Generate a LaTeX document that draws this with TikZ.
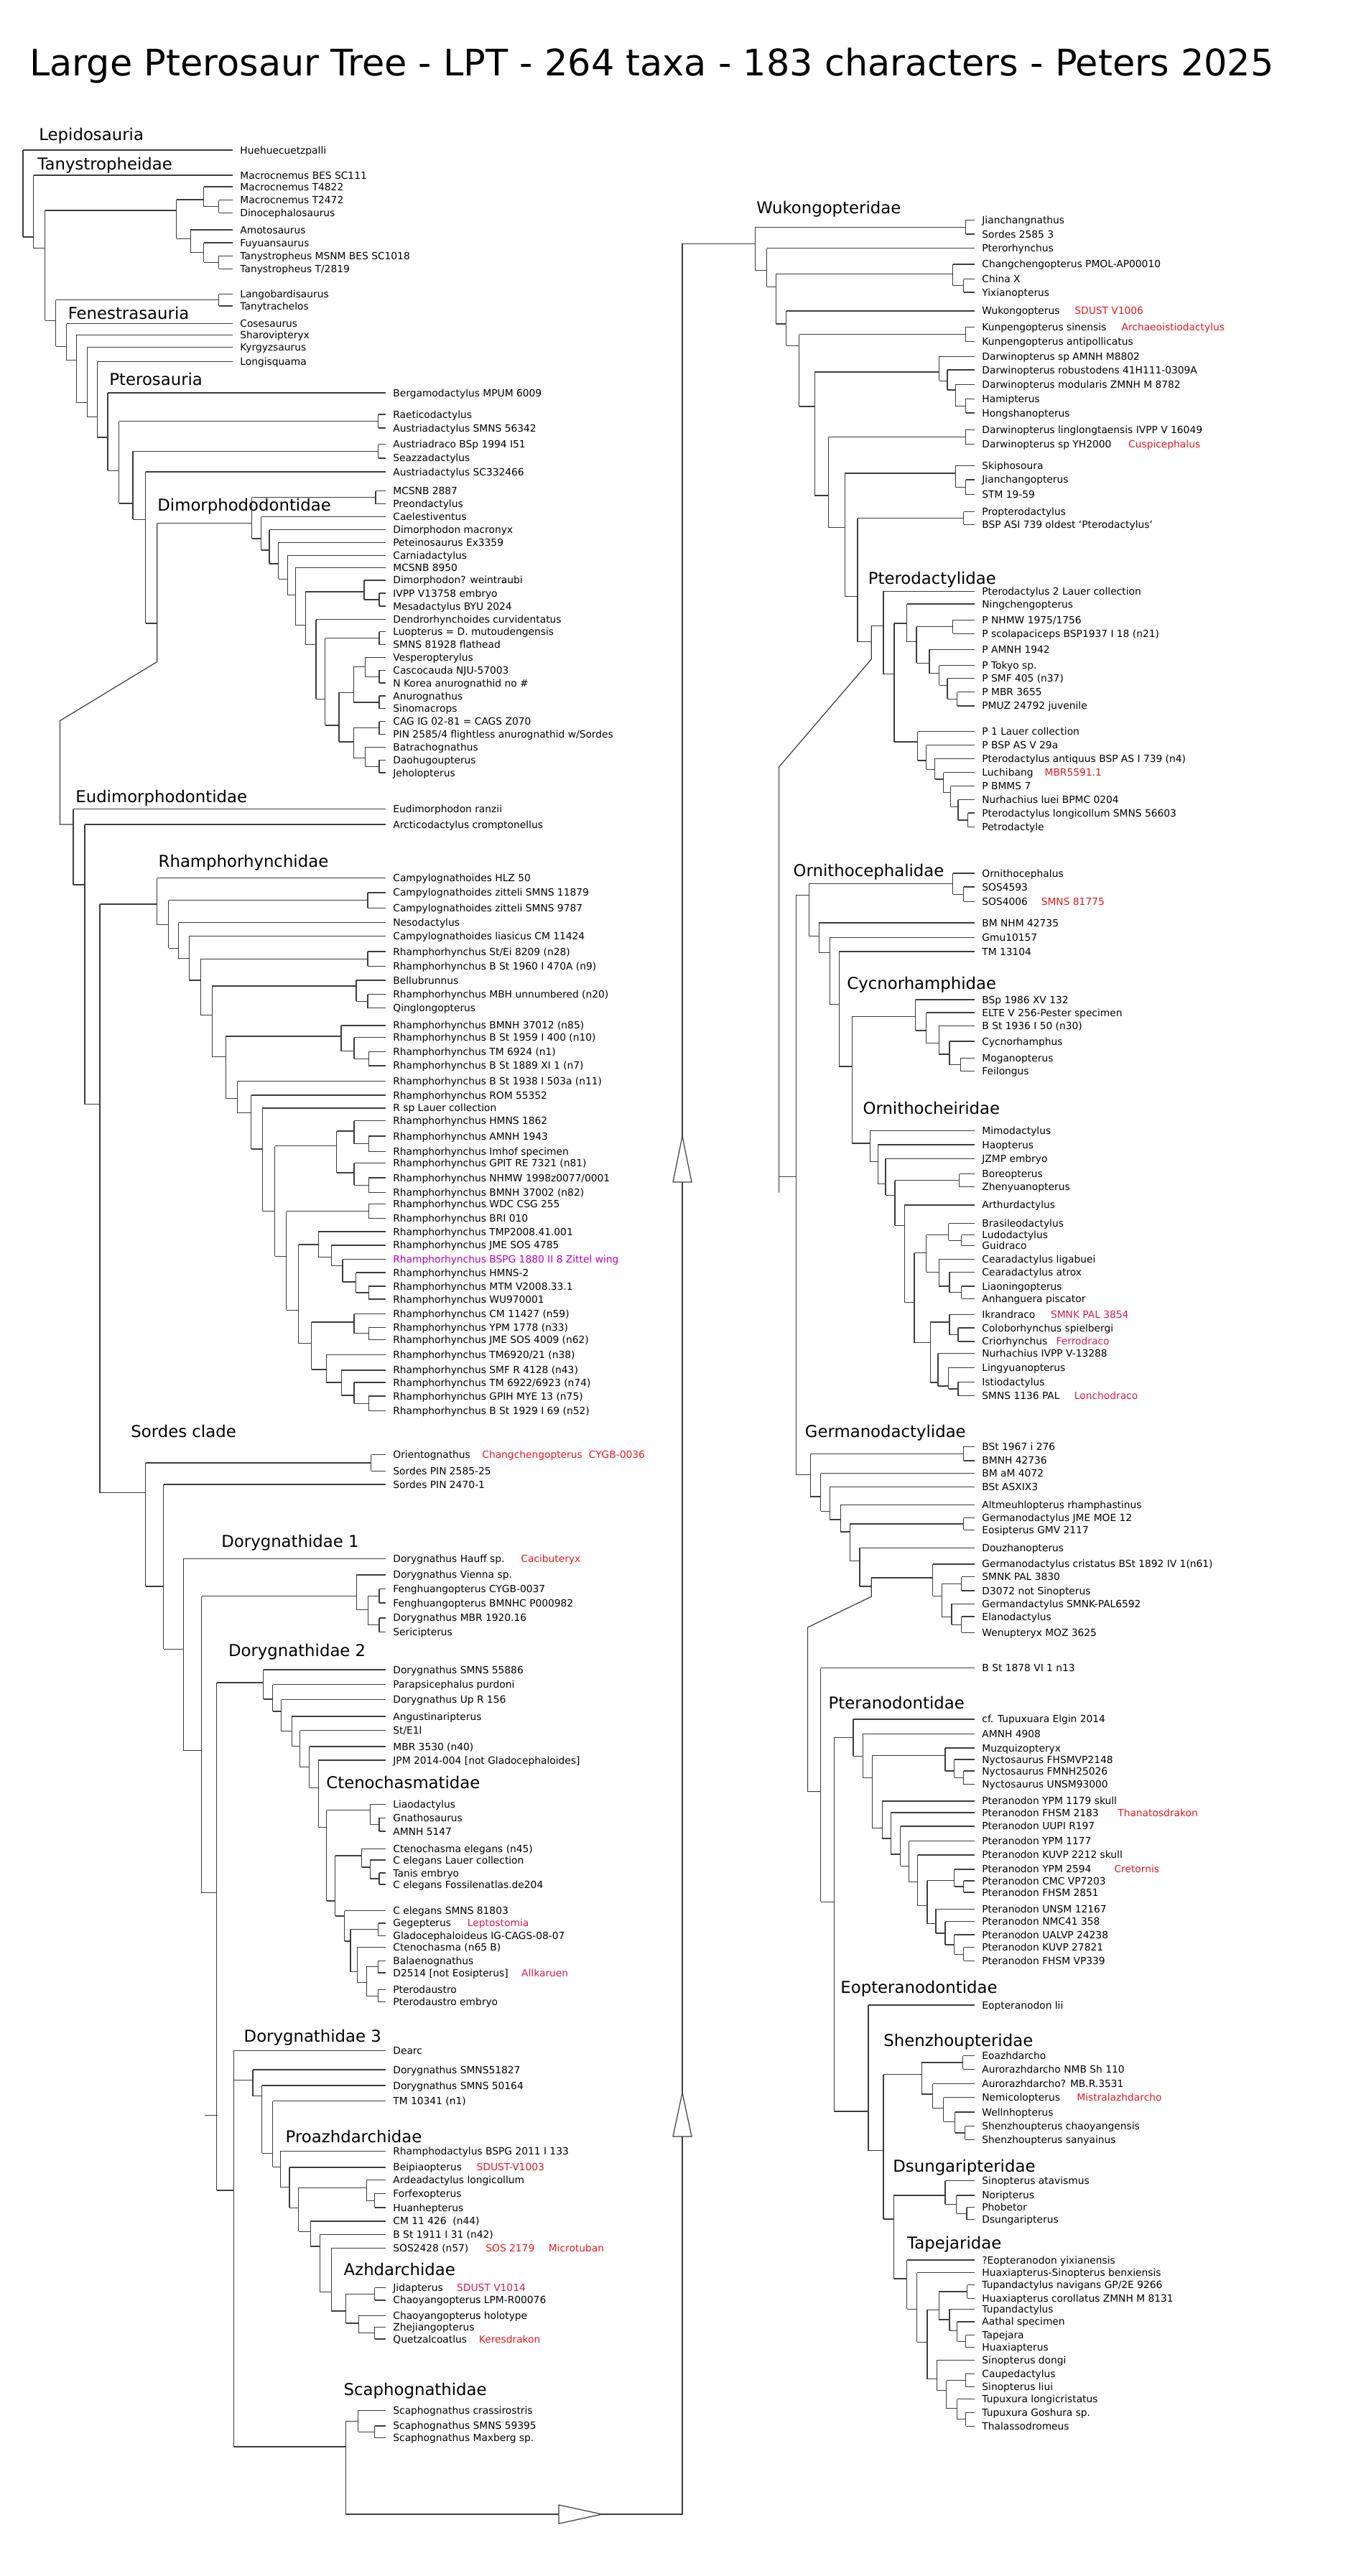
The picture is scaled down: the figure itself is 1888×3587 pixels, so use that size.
\documentclass[tikz,border=0pt]{standalone}
\usepackage{fontspec}
\setmainfont{DejaVu Sans}
\usepackage{graphicx}
\definecolor{annred}{RGB}{226,26,32}
\definecolor{anncrim}{RGB}{214,30,80}
\definecolor{annmag}{RGB}{185,0,185}
\definecolor{brc}{RGB}{60,60,60}
\tikzset{
  br/.style={draw=brc, line width=0.6pt},
  leaf/.style={anchor=west, inner xsep=5pt, inner ysep=0pt, text height=5pt, text depth=0pt, font=\fontsize{6.9}{8}\selectfont},
  ann/.style={anchor=west, inner sep=0pt, text height=5pt, text depth=0pt, font=\fontsize{6.9}{8}\selectfont, text=annred},
  clname/.style={anchor=west, inner sep=0pt, text height=8.3pt, text depth=0pt, font=\fontsize{11.4}{13}\selectfont},
  tri/.style={draw=brc, fill=white, line width=0.6pt},
}
\newcommand\lf[4]{\node[leaf] (#1) at (#2,#3) {#4};}
\newcommand\clade[4]{%
  \coordinate (#1) at (#2,#3);
  \foreach \ch [count=\ci] in {#4}{\ifnum\ci=1 \xdef\cfirst{\ch}\fi \xdef\clast{\ch}}%
  \draw[br] (#1 |- \cfirst) -- (#1) -- (#1 |- \clast);
  \foreach \ch in {#4}{\draw[br] (#1 |- \ch) -- (\ch);}%
}
\def\XB{324}
\def\XL{537}
\def\XR{1357}
\begin{document}
\begin{tikzpicture}[x=0.5pt,y=-0.5pt]
\fill[white] (0,0) rectangle (1888,3587);
\useasboundingbox (0,0) rectangle (1888,3587);

\node[anchor=west, inner sep=0pt] (title) at (41,91.5) {\resizebox{866pt}{!}{Large Pterosaur Tree - LPT - 264 taxa - 183 characters - Peters 2025}};

% ---------------- clade names
\node[clname] (hLepi) at (54,187.5) {Lepidosauria};
\node[clname] (hTany) at (52,228) {Tanystropheidae};
\node[clname] (hFene) at (94.4,435.7) {Fenestrasauria};
\node[clname] (hPter) at (152,528.6) {Pterosauria};
\node[clname] (hDimo) at (219,703) {Dimorphododontidae};
\node[clname] (hEudi) at (105,1109) {Eudimorphodontidae};
\node[clname] (hRham) at (220.3,1199.3) {Rhamphorhynchidae};
\node[clname] (hSord) at (182,1993) {Sordes clade};
\node[clname] (hDor1) at (308,2145.7) {Dorygnathidae 1};
\node[clname] (hDor2) at (317.6,2298.2) {Dorygnathidae 2};
\node[clname] (hCten) at (454,2482) {Ctenochasmatidae};
\node[clname] (hDor3) at (339.3,2835) {Dorygnathidae 3};
\node[clname] (hProa) at (397.3,2975) {Proazhdarchidae};
\node[clname] (hAzhd) at (478.3,3160) {Azhdarchidae};
\node[clname] (hScap) at (478.3,3326.8) {Scaphognathidae};
\node[clname] (hWuko) at (1052.9,289.3) {Wukongopteridae};
\node[clname] (hPtdy) at (1208.4,805) {Pterodactylidae};
\node[clname] (hOrce) at (1104.3,1212.5) {Ornithocephalidae};
\node[clname] (hCycn) at (1179,1369.6) {Cycnorhamphidae};
\node[clname] (hOrch) at (1201.2,1542.9) {Ornithocheiridae};
\node[clname] (hGerm) at (1120.5,1992.9) {Germanodactylidae};
\node[clname] (hPtno) at (1153.3,2371.4) {Pteranodontidae};
\node[clname] (hEopt) at (1170,2767) {Eopteranodontidae};
\node[clname] (hShen) at (1230,2841) {Shenzhoupteridae};
\node[clname] (hDsun) at (1243,3015.7) {Dsungaripteridae};
\node[clname] (hTape) at (1262.8,3123.5) {Tapejaridae};

% ---------------- leaves, left column
\lf{huehue}{\XB}{209}{Huehuecuetzpalli}
\lf{macbes}{\XB}{244}{Macrocnemus BES SC111}
\lf{macA}{\XB}{260}{Macrocnemus T4822}
\lf{macB}{\XB}{278.6}{Macrocnemus T2472}
\lf{dino}{\XB}{296.4}{Dinocephalosaurus}
\lf{amoto}{\XB}{320}{Amotosaurus}
\lf{fuyu}{\XB}{338}{Fuyuansaurus}
\lf{tanyM}{\XB}{356.4}{Tanystropheus MSNM BES SC1018}
\lf{tanyT}{\XB}{374.3}{Tanystropheus T/2819}
\lf{lango}{\XB}{409.6}{Langobardisaurus}
\lf{tanytr}{\XB}{426}{Tanytrachelos}
\lf{coses}{\XB}{450.7}{Cosesaurus}
\lf{sharo}{\XB}{466.4}{Sharovipteryx}
\lf{kyrg}{\XB}{483.6}{Kyrgyzsaurus}
\lf{longi}{\XB}{503.6}{Longisquama}

\lf{bergamo}{\XL}{547}{Bergamodactylus MPUM 6009}
\lf{raetico}{\XL}{577}{Raeticodactylus}
\lf{austS}{\XL}{596}{Austriadactylus SMNS 56342}
\lf{austdraco}{\XL}{618.6}{Austriadraco BSp 1994 I51}
\lf{seazza}{\XL}{637.9}{Seazzadactylus}
\lf{austSC}{\XL}{657}{Austriadactylus SC332466}
\lf{mcsnbA}{\XL}{683.6}{MCSNB 2887}
\lf{preon}{\XL}{701.8}{Preondactylus}
\lf{caeles}{\XL}{719.6}{Caelestiventus}
\lf{dimmac}{\XL}{737.5}{Dimorphodon macronyx}
\lf{petein}{\XL}{755.4}{Peteinosaurus Ex3359}
\lf{carnia}{\XL}{773.2}{Carniadactylus}
\lf{mcsnbB}{\XL}{790.4}{MCSNB 8950}
\lf{dimwein}{\XL}{807.9}{Dimorphodon? weintraubi}
\lf{ivpp}{\XL}{826}{IVPP V13758 embryo}
\lf{mesa}{\XL}{844}{Mesadactylus BYU 2024}
\lf{dendro}{\XL}{862.5}{Dendrorhynchoides curvidentatus}
\lf{luop}{\XL}{879.6}{Luopterus = D. mutoudengensis}
\lf{smnsA}{\XL}{897.5}{SMNS 81928 flathead}
\lf{vesper}{\XL}{915.4}{Vesperopterylus}
\lf{casco}{\XL}{933.2}{Cascocauda NJU-57003}
\lf{nkorea}{\XL}{951}{N Korea anurognathid no \#}
\lf{anuro}{\XL}{969}{Anurognathus}
\lf{sinomac}{\XL}{986.8}{Sinomacrops}
\lf{cag}{\XL}{1004.6}{CAG IG 02-81 = CAGS Z070}
\lf{pinA}{\XL}{1022.5}{PIN 2585/4 flightless anurognathid w/Sordes}
\lf{batra}{\XL}{1040.4}{Batrachognathus}
\lf{daohu}{\XL}{1058.2}{Daohugoupterus}
\lf{jehol}{\XL}{1076}{Jeholopterus}
\lf{eudim}{\XL}{1126.8}{Eudimorphodon ranzii}
\lf{arctic}{\XL}{1148}{Arcticodactylus cromptonellus}
\lf{campyHLZ}{\XL}{1222.5}{Campylognathoides HLZ 50}
\lf{campyZ1}{\XL}{1242.9}{Campylognathoides zitteli SMNS 11879}
\lf{campyZ2}{\XL}{1264.3}{Campylognathoides zitteli SMNS 9787}
\lf{neso}{\XL}{1284.6}{Nesodactylus}
\lf{campyL}{\XL}{1303.6}{Campylognathoides liasicus CM 11424}
\lf{rSt}{\XL}{1325}{Rhamphorhynchus St/Ei 8209 (n28)}
\lf{rBa}{\XL}{1345.4}{Rhamphorhynchus B St 1960 I 470A (n9)}
\lf{bellu}{\XL}{1365}{Bellubrunnus}
\lf{rMBH}{\XL}{1384.6}{Rhamphorhynchus MBH unnumbered (n20)}
\lf{qing}{\XL}{1403.6}{Qinglongopterus}
\lf{rBM1}{\XL}{1427.9}{Rhamphorhynchus BMNH 37012 (n85)}
\lf{rBc}{\XL}{1444.6}{Rhamphorhynchus B St 1959 I 400 (n10)}
\lf{rTMa}{\XL}{1464.3}{Rhamphorhynchus TM 6924 (n1)}
\lf{rBb}{\XL}{1483.9}{Rhamphorhynchus B St 1889 XI 1 (n7)}
\lf{rB1938}{\XL}{1505.4}{Rhamphorhynchus B St 1938 I 503a (n11)}
\lf{rROM}{\XL}{1525}{Rhamphorhynchus ROM 55352}
\lf{rLauer}{\XL}{1542.9}{R sp Lauer collection}
\lf{rHMNS}{\XL}{1560.7}{Rhamphorhynchus HMNS 1862}
\lf{rAMNH}{\XL}{1582}{Rhamphorhynchus AMNH 1943}
\lf{rImhof}{\XL}{1603.6}{Rhamphorhynchus Imhof specimen}
\lf{rGPIT}{\XL}{1619.6}{Rhamphorhynchus GPIT RE 7321 (n81)}
\lf{rNHMW}{\XL}{1640}{Rhamphorhynchus NHMW 1998z0077/0001}
\lf{rBM2}{\XL}{1660.7}{Rhamphorhynchus BMNH 37002 (n82)}
\lf{rWDC}{\XL}{1676.8}{Rhamphorhynchus WDC CSG 255}
\lf{rBRI}{\XL}{1696.4}{Rhamphorhynchus BRI 010}
\lf{rTMP}{\XL}{1715}{Rhamphorhynchus TMP2008.41.001}
\lf{rJMEa}{\XL}{1733.9}{Rhamphorhynchus JME SOS 4785}
\node[leaf, text=annmag] (rBSPG) at (\XL,1753.6) {Rhamphorhynchus BSPG 1880 II 8 Zittel wing};
\lf{rHMNS2}{\XL}{1772}{Rhamphorhynchus HMNS-2}
\lf{rMTM}{\XL}{1791}{Rhamphorhynchus MTM V2008.33.1}
\lf{rWU}{\XL}{1809}{Rhamphorhynchus WU970001}
\lf{rCM}{\XL}{1829.6}{Rhamphorhynchus CM 11427 (n59)}
\lf{rYPM}{\XL}{1848.2}{Rhamphorhynchus YPM 1778 (n33)}
\lf{rJMEb}{\XL}{1865.4}{Rhamphorhynchus JME SOS 4009 (n62)}
\lf{rTMb}{\XL}{1886.8}{Rhamphorhynchus TM6920/21 (n38)}
\lf{rSMF}{\XL}{1907.9}{Rhamphorhynchus SMF R 4128 (n43)}
\lf{rTMc}{\XL}{1925}{Rhamphorhynchus TM 6922/6923 (n74)}
\lf{rGPIH}{\XL}{1944}{Rhamphorhynchus GPIH MYE 13 (n75)}
\lf{rB1929}{\XL}{1964.3}{Rhamphorhynchus B St 1929 I 69 (n52)}
\lf{orient}{\XL}{2025.7}{Orientognathus}
\lf{sordesA}{\XL}{2048.2}{Sordes PIN 2585-25}
\lf{sordesB}{\XL}{2067}{Sordes PIN 2470-1}
\lf{doryH}{\XL}{2170.4}{Dorygnathus Hauff sp.}
\lf{doryV}{\XL}{2192.9}{Dorygnathus Vienna sp.}
\lf{fengA}{\XL}{2212.5}{Fenghuangopterus CYGB-0037}
\lf{fengB}{\XL}{2232}{Fenghuangopterus BMNHC P000982}
\lf{doryMBR}{\XL}{2252.9}{Dorygnathus MBR 1920.16}
\lf{seric}{\XL}{2272.5}{Sericipterus}
\lf{doryS558}{\XL}{2325}{Dorygnathus SMNS 55886}
\lf{paraps}{\XL}{2345.7}{Parapsicephalus purdoni}
\lf{doryUp}{\XL}{2366.8}{Dorygnathus Up R 156}
\lf{angust}{\XL}{2390}{Angustinaripterus}
\lf{stE1}{\XL}{2409.6}{St/E1l}
\lf{mbr3530}{\XL}{2432}{MBR 3530 (n40)}
\lf{jpm}{\XL}{2451}{JPM 2014-004 [not Gladocephaloides]}
\lf{liao}{\XL}{2512.5}{Liaodactylus}
\lf{gnatho}{\XL}{2531.4}{Gnathosaurus}
\lf{amnh5147}{\XL}{2550}{AMNH 5147}
\lf{cten45}{\XL}{2574.3}{Ctenochasma elegans (n45)}
\lf{cLauer}{\XL}{2590}{C elegans Lauer collection}
\lf{tanis}{\XL}{2608}{Tanis embryo}
\lf{fossil}{\XL}{2624}{C elegans Fossilenatlas.de204}
\lf{csmns}{\XL}{2660.7}{C elegans SMNS 81803}
\lf{gege}{\XL}{2677.9}{Gegepterus}
\lf{glado}{\XL}{2695.7}{Gladocephaloideus IG-CAGS-08-07}
\lf{cten65}{\XL}{2711.4}{Ctenochasma (n65 B)}
\lf{balae}{\XL}{2730.4}{Balaenognathus}
\lf{d2514}{\XL}{2747}{D2514 [not Eosipterus]}
\lf{ptdau}{\XL}{2770.7}{Pterodaustro}
\lf{ptdauE}{\XL}{2787.5}{Pterodaustro embryo}
\lf{dearc}{\XL}{2855.4}{Dearc}
\lf{doryS518}{\XL}{2882}{Dorygnathus SMNS51827}
\lf{doryS501}{\XL}{2904}{Dorygnathus SMNS 50164}
\lf{tm10341}{\XL}{2925.7}{TM 10341 (n1)}
\lf{rhampho}{\XL}{2995.7}{Rhamphodactylus BSPG 2011 I 133}
\lf{beipiao}{\XL}{3017.9}{Beipiaopterus}
\lf{ardea}{\XL}{3035.7}{Ardeadactylus longicollum}
\lf{forfex}{\XL}{3054.3}{Forfexopterus}
\lf{huanhe}{\XL}{3074}{Huanhepterus}
\lf{cm11426}{\XL}{3092.9}{CM 11 426\ \ (n44)}
\lf{bst1911}{\XL}{3111.8}{B St 1911 I 31 (n42)}
\lf{sos2428}{\XL}{3130.4}{SOS2428 (n57)}
\lf{jida}{\XL}{3185.7}{Jidapterus}
\lf{chaoL}{\XL}{3202.9}{Chaoyangopterus LPM-R00076}
\lf{chaoH}{\XL}{3224.3}{Chaoyangopterus holotype}
\lf{zheji}{\XL}{3240.4}{Zhejiangopterus}
\lf{quetz}{\XL}{3257}{Quetzalcoatlus}
\lf{scaC}{\XL}{3356.4}{Scaphognathus crassirostris}
\lf{scaS}{\XL}{3377.9}{Scaphognathus SMNS 59395}
\lf{scaM}{\XL}{3394.6}{Scaphognathus Maxberg sp.}

% ---------------- leaves, right column
\lf{jianchN}{\XR}{306.4}{Jianchangnathus}
\lf{sordesC}{\XR}{326}{Sordes 2585 3}
\lf{pteror}{\XR}{345.7}{Pterorhynchus}
\lf{changP}{\XR}{367.9}{Changchengopterus PMOL-AP00010}
\lf{chinaX}{\XR}{388.6}{China X}
\lf{yixian}{\XR}{407}{Yixianopterus}
\lf{wukong}{\XR}{432.9}{Wukongopterus}
\lf{kunS}{\XR}{455.4}{Kunpengopterus sinensis}
\lf{kunA}{\XR}{475.7}{Kunpengopterus antipollicatus}
\lf{darAM}{\XR}{496.4}{Darwinopterus sp AMNH M8802}
\lf{darRob}{\XR}{515}{Darwinopterus robustodens 41H111-0309A}
\lf{darMod}{\XR}{535.7}{Darwinopterus modularis ZMNH M 8782}
\lf{hami}{\XR}{555.4}{Hamipterus}
\lf{hong}{\XR}{575}{Hongshanopterus}
\lf{darLin}{\XR}{598.2}{Darwinopterus linglongtaensis IVPP V 16049}
\lf{darYH}{\XR}{618.6}{Darwinopterus sp YH2000}
\lf{skipho}{\XR}{648.2}{Skiphosoura}
\lf{jianchP}{\XR}{667.9}{Jianchangopterus}
\lf{stm}{\XR}{688.6}{STM 19-59}
\lf{propt}{\XR}{712.5}{Propterodactylus}
\lf{bspasi}{\XR}{730.4}{BSP ASI 739 oldest ‘Pterodactylus’}
\lf{pt2L}{\XR}{823.2}{Pterodactylus 2 Lauer collection}
\lf{ningch}{\XR}{841}{Ningchengopterus}
\lf{pNHMW}{\XR}{863.2}{P NHMW 1975/1756}
\lf{pScol}{\XR}{882.1}{P scolapaciceps BSP1937 I 18 (n21)}
\lf{pAMNH}{\XR}{904.3}{P AMNH 1942}
\lf{pTokyo}{\XR}{926.8}{P Tokyo sp.}
\lf{pSMF}{\XR}{944.6}{P SMF 405 (n37)}
\lf{pMBR}{\XR}{963.6}{P MBR 3655}
\lf{pmuz}{\XR}{982.9}{PMUZ 24792 juvenile}
\lf{p1L}{\XR}{1018.6}{P 1 Lauer collection}
\lf{pBSP}{\XR}{1037.5}{P BSP AS V 29a}
\lf{ptAnt}{\XR}{1056.4}{Pterodactylus antiquus BSP AS I 739 (n4)}
\lf{luchi}{\XR}{1075.7}{Luchibang}
\lf{pBMMS}{\XR}{1094.6}{P BMMS 7}
\lf{nurhL}{\XR}{1113.6}{Nurhachius luei BPMC 0204}
\lf{ptLong}{\XR}{1132}{Pterodactylus longicollum SMNS 56603}
\lf{petro}{\XR}{1151.8}{Petrodactyle}
\lf{ornitho}{\XR}{1216}{Ornithocephalus}
\lf{sosA}{\XR}{1235}{SOS4593}
\lf{sosB}{\XR}{1255.4}{SOS4006}
\lf{bmnhm}{\XR}{1285}{BM NHM 42735}
\lf{gmu}{\XR}{1305.4}{Gmu10157}
\lf{tm13104}{\XR}{1325}{TM 13104}
\lf{bsp1986}{\XR}{1392}{BSp 1986 XV 132}
\lf{elte}{\XR}{1410}{ELTE V 256-Pester specimen}
\lf{bst1936}{\XR}{1428.6}{B St 1936 I 50 (n30)}
\lf{cycno}{\XR}{1450}{Cycnorhamphus}
\lf{mogan}{\XR}{1473.2}{Moganopterus}
\lf{feilo}{\XR}{1491.8}{Feilongus}
\lf{mimo}{\XR}{1574.3}{Mimodactylus}
\lf{haop}{\XR}{1594}{Haopterus}
\lf{jzmp}{\XR}{1613.2}{JZMP embryo}
\lf{boreo}{\XR}{1634.6}{Boreopterus}
\lf{zheny}{\XR}{1652.5}{Zhenyuanopterus}
\lf{arthur}{\XR}{1677.9}{Arthurdactylus}
\lf{brasil}{\XR}{1703.6}{Brasileodactylus}
\lf{ludo}{\XR}{1719.6}{Ludodactylus}
\lf{guidr}{\XR}{1734.6}{Guidraco}
\lf{cearL}{\XR}{1753.6}{Cearadactylus ligabuei}
\lf{cearA}{\XR}{1771.4}{Cearadactylus atrox}
\lf{liaon}{\XR}{1791}{Liaoningopterus}
\lf{anhang}{\XR}{1808.2}{Anhanguera piscator}
\lf{ikran}{\XR}{1830.4}{Ikrandraco}
\lf{colob}{\XR}{1849}{Coloborhynchus spielbergi}
\lf{crior}{\XR}{1867.9}{Criorhynchus}
\lf{nurhI}{\XR}{1884.6}{Nurhachius IVPP V-13288}
\lf{lingy}{\XR}{1904.3}{Lingyuanopterus}
\lf{istio}{\XR}{1924.3}{Istiodactylus}
\lf{smnsD}{\XR}{1943.6}{SMNS 1136 PAL}
\lf{bst1967}{\XR}{2014.3}{BSt 1967 i 276}
\lf{bmnhB}{\XR}{2033.9}{BMNH 42736}
\lf{bmam}{\XR}{2051.8}{BM aM 4072}
\lf{bstas}{\XR}{2070.7}{BSt ASXIX3}
\lf{altm}{\XR}{2095.7}{Altmeuhlopterus rhamphastinus}
\lf{germJME}{\XR}{2113.6}{Germanodactylus JME MOE 12}
\lf{eosip}{\XR}{2130.4}{Eosipterus GMV 2117}
\lf{douzh}{\XR}{2155.4}{Douzhanopterus}
\lf{germC}{\XR}{2177.9}{Germanodactylus cristatus BSt 1892 IV 1(n61)}
\lf{smnk3830}{\XR}{2195.7}{SMNK PAL 3830}
\lf{d3072}{\XR}{2215}{D3072 not Sinopterus}
\lf{germS}{\XR}{2233.2}{Germandactylus SMNK-PAL6592}
\lf{elano}{\XR}{2251}{Elanodactylus}
\lf{wenup}{\XR}{2273.2}{Wenupteryx MOZ 3625}
\lf{bst1878}{\XR}{2322.5}{B St 1878 VI 1 n13}
\lf{cfTup}{\XR}{2393.9}{cf. Tupuxuara Elgin 2014}
\lf{amnh4908}{\XR}{2414.3}{AMNH 4908}
\lf{muzq}{\XR}{2434}{Muzquizopteryx}
\lf{nyctF}{\XR}{2450}{Nyctosaurus FHSMVP2148}
\lf{nyctM}{\XR}{2466}{Nyctosaurus FMNH25026}
\lf{nyctU}{\XR}{2484.6}{Nyctosaurus UNSM93000}
\lf{ptnYa}{\XR}{2507.9}{Pteranodon YPM 1179 skull}
\lf{ptnFa}{\XR}{2524}{Pteranodon FHSM 2183}
\lf{ptnUU}{\XR}{2542.9}{Pteranodon UUPI R197}
\lf{ptnYb}{\XR}{2563.6}{Pteranodon YPM 1177}
\lf{ptnKa}{\XR}{2582.9}{Pteranodon KUVP 2212 skull}
\lf{ptnYc}{\XR}{2602.9}{Pteranodon YPM 2594}
\lf{ptnCMC}{\XR}{2619}{Pteranodon CMC VP7203}
\lf{ptnFb}{\XR}{2635}{Pteranodon FHSM 2851}
\lf{ptnUN}{\XR}{2658.2}{Pteranodon UNSM 12167}
\lf{ptnNMC}{\XR}{2675.7}{Pteranodon NMC41 358}
\lf{ptnUAL}{\XR}{2694}{Pteranodon UALVP 24238}
\lf{ptnKb}{\XR}{2711.8}{Pteranodon KUVP 27821}
\lf{ptnFc}{\XR}{2730.4}{Pteranodon FHSM VP339}
\lf{eoptL}{\XR}{2792}{Eopteranodon lii}
\lf{eoazh}{\XR}{2862.5}{Eoazhdarcho}
\lf{aurN}{\XR}{2881.4}{Aurorazhdarcho NMB Sh 110}
\lf{aurM}{\XR}{2901.8}{Aurorazhdarcho? MB.R.3531}
\lf{nemic}{\XR}{2920.7}{Nemicolopterus}
\lf{welln}{\XR}{2941}{Wellnhopterus}
\lf{shenC}{\XR}{2960.7}{Shenzhoupterus chaoyangensis}
\lf{shenS}{\XR}{2979.3}{Shenzhoupterus sanyainus}
\lf{sinoA}{\XR}{3036.7}{Sinopterus atavismus}
\lf{norip}{\XR}{3056.9}{Noripterus}
\lf{phob}{\XR}{3073.8}{Phobetor}
\lf{dsung}{\XR}{3090.6}{Dsungaripterus}
\lf{eoptY}{\XR}{3147}{?Eopteranodon yixianensis}
\lf{huaxS}{\XR}{3164.7}{Huaxiapterus-Sinopterus benxiensis}
\lf{tupN}{\XR}{3181.6}{Tupandactylus navigans GP/2E 9266}
\lf{huaxC}{\XR}{3200.3}{Huaxiapterus corollatus ZMNH M 8131}
\lf{tupan}{\XR}{3215.3}{Tupandactylus}
\lf{aathal}{\XR}{3232.9}{Aathal specimen}
\lf{tapej}{\XR}{3251.6}{Tapejara}
\lf{huax}{\XR}{3268.8}{Huaxiapterus}
\lf{sinoD}{\XR}{3286.4}{Sinopterus dongi}
\lf{caupe}{\XR}{3305.1}{Caupedactylus}
\lf{sinoL}{\XR}{3323.8}{Sinopterus liui}
\lf{tupuL}{\XR}{3340.7}{Tupuxura longicristatus}
\lf{tupuG}{\XR}{3359.4}{Tupuxura Goshura sp.}
\lf{thala}{\XR}{3378.1}{Thalassodromeus}

% ---------------- coloured annotations
\node[ann] (n01) at (671,2025.7) {Changchengopterus};
\node[ann] (n02) at (819.5,2025.7) {CYGB-0036};
\node[ann] (n03) at (725,2170.4) {Cacibuteryx};
\node[ann, text=anncrim] (n04) at (650.5,2677.9) {Leptostomia};
\node[ann, text=anncrim] (n05) at (725.8,2747) {Allkaruen};
\node[ann] (n06) at (663.3,3017.9) {SDUST-V1003};
\node[ann] (n07) at (676,3130.4) {SOS 2179};
\node[ann] (n08) at (763.4,3130.4) {Microtuban};
\node[ann, text=anncrim] (n09) at (635.8,3185.7) {SDUST V1014};
\node[ann] (n10) at (666.5,3257) {Keresdrakon};
\node[ann] (n11) at (1496,432.9) {SDUST V1006};
\node[ann] (n12) at (1561.2,455.4) {Archaeoistiodactylus};
\node[ann] (n13) at (1570.8,618.6) {Cuspicephalus};
\node[ann] (n14) at (1454.2,1075.7) {MBR5591.1};
\node[ann] (n15) at (1449.4,1255.4) {SMNS 81775};
\node[ann, text=anncrim] (n16) at (1462.6,1830.4) {SMNK PAL 3854};
\node[ann, text=anncrim] (n17) at (1470.3,1867.9) {Ferrodraco};
\node[ann, text=anncrim] (n18) at (1495.5,1943.6) {Lonchodraco};
\node[ann] (n19) at (1555.9,2524) {Thanatosdrakon};
\node[ann] (n20) at (1551.1,2602.9) {Cretornis};
\node[ann] (n21) at (1499,2920.7) {Mistralazhdarcho};

% ================= RIGHT COLUMN TREE
\clade{jsP}{1344.7}{316.2}{jianchN,sordesC}
\clade{cyP}{1341.7}{397.8}{chinaX,yixian}
\clade{cP}{1326.8}{381.4}{changP,cyP}
\clade{kuP}{1344.7}{465.6}{kunS,kunA}
\clade{hhP}{1344.7}{565.2}{hami,hong}
\clade{darN3}{1330.4}{542.9}{darMod,hhP}
\clade{darN2}{1319}{530.4}{darRob,darN3}
\clade{darN}{1307.7}{517.9}{darAM,darN2}
\clade{dlP}{1344.7}{608.4}{darLin,darYH}
\clade{jsP2}{1344.7}{678.3}{jianchP,stm}
\clade{skN}{1330.4}{659}{skipho,jsP2}
\clade{ppP}{1341.7}{721.5}{propt,bspasi}
\clade{nsP}{1326.8}{872.7}{pNHMW,pScol}
\clade{mpP}{1332.8}{973.3}{pMBR,pmuz}
\clade{Pd7}{1319}{954.3}{pSMF,mpP}
\clade{Pd6}{1307.7}{937.5}{pTokyo,Pd7}
\clade{Pd5}{1293.9}{923.2}{pAMNH,Pd6}
\clade{Pd4}{1276}{893.6}{nsP,Pd5}
\clade{Pd3}{1262.8}{867.9}{ningch,Pd4}
\clade{lpP}{1347.7}{1141.9}{ptLong,petro}
\clade{Pd13}{1334}{1123.2}{nurhL,lpP}
\clade{Pd12}{1323.8}{1103.6}{pBMMS,Pd13}
\clade{Pd11}{1313.6}{1085}{luchi,Pd12}
\clade{Pd10}{1301.7}{1071.4}{ptAnt,Pd11}
\clade{Pd9}{1289.7}{1058.9}{pBSP,Pd10}
\clade{Pd8}{1277.8}{1032.9}{p1L,Pd9}
\clade{Pd2}{1244.9}{938.6}{Pd3,Pd8}
\clade{Pd1}{1229.9}{871.4}{pt2L,Pd2}
\clade{ssP}{1341.7}{1245.2}{sosA,sosB}
\clade{orN}{1326.8}{1230.4}{ornitho,ssP}
\clade{mfP}{1337.6}{1482.5}{mogan,feilo}
\clade{Cy4}{1322}{1467.9}{cycno,mfP}
\clade{Cy3}{1307.1}{1452.5}{bst1936,Cy4}
\clade{Cy2}{1289.7}{1435}{elte,Cy3}
\clade{Cy1}{1274.8}{1415.4}{bsp1986,Cy2}
\clade{bzP}{1335.8}{1643.6}{boreo,zheny}
\clade{lgP}{1338.8}{1727.1}{ludo,guidr}
\clade{blgN}{1320.8}{1719.6}{brasil,lgP}
\clade{laP}{1338.8}{1799.6}{liaon,anhang}
\clade{Oc8b}{1322}{1791}{cearA,laP}
\clade{Oc8}{1307.1}{1771.4}{cearL,Oc8b}
\clade{Oc7}{1289.7}{1744.6}{blgN,Oc8}
\clade{ccP}{1334}{1858.5}{colob,crior}
\clade{icN}{1322}{1841}{ikran,ccP}
\clade{isP}{1334}{1934}{istio,smnsD}
\clade{Oc11}{1320.8}{1930}{lingy,isP}
\clade{Oc10}{1305.9}{1925}{nurhI,Oc11}
\clade{Oc9}{1295.1}{1869.6}{icN,Oc10}
\clade{Oc6}{1273}{1813.2}{Oc7,Oc9}
\clade{Oc5}{1259.2}{1706.4}{arthur,Oc6}
\clade{Oc4}{1246}{1664.3}{bzP,Oc5}
\clade{Oc3}{1232.9}{1648.2}{jzmp,Oc4}
\clade{Oc2}{1222.1}{1617.1}{haop,Oc3}
\clade{Oc1}{1211.4}{1592}{mimo,Oc2}
\clade{O5}{1186.2}{1485}{Cy1,Oc1}
\clade{O4}{1168.3}{1398.2}{tm13104,O5}
\clade{O3}{1155.1}{1326.8}{gmu,O4}
\clade{O2}{1140.2}{1303.6}{bmnhm,O3}
\clade{O1}{1126.4}{1246.4}{orN,O2}
\clade{bbP}{1341.7}{2024.1}{bst1967,bmnhB}
\clade{geP}{1341.7}{2122}{germJME,eosip}
\clade{sdP}{1338.8}{2205.4}{smnk3830,d3072}
\clade{ewP}{1338.8}{2262.1}{elano,wenup}
\clade{Gc3}{1325}{2251.8}{germS,ewP}
\clade{Gc2}{1311.8}{2222.1}{sdP,Gc3}
\clade{Gc1}{1298.7}{2197}{germC,Gc2}
\clade{nfuP}{1341.7}{2475.3}{nyctM,nyctU}
\clade{nyN2}{1328.6}{2466}{nyctF,nfuP}
\clade{nyN}{1316}{2444.6}{muzq,nyN2}
\clade{cfP}{1341.7}{2627}{ptnCMC,ptnFb}
\clade{ycfN}{1328.6}{2618.6}{ptnYc,cfP}
\clade{kfP}{1341.7}{2721.1}{ptnKb,ptnFc}
\clade{Pn13}{1328.6}{2707.9}{ptnUAL,kfP}
\clade{Pn12}{1316}{2692}{ptnNMC,Pn13}
\clade{Pn11}{1302.9}{2678.6}{ptnUN,Pn12}
\clade{Pn10}{1290.9}{2653.6}{ycfN,Pn11}
\clade{Pn9}{1277.8}{2620.7}{ptnKa,Pn10}
\clade{Pn8}{1265.8}{2598.2}{ptnYb,Pn9}
\clade{Pn7}{1253.8}{2582}{ptnUU,Pn8}
\clade{Pn6}{1240.1}{2560}{ptnFa,Pn7}
\clade{Pn5}{1228.1}{2545.7}{ptnYa,Pn6}
\clade{Pn4}{1214.4}{2475.7}{nyN,Pn5}
\clade{Pn3}{1201.2}{2445.4}{amnh4908,Pn4}
\clade{Pn2}{1188}{2419.6}{cfTup,Pn3}
\clade{eaP}{1340.6}{2872}{eoazh,aurN}
\clade{scsP}{1343.5}{2970}{shenC,shenS}
\clade{Sh4}{1329.8}{2954.3}{welln,scsP}
\clade{Sh3}{1313.6}{2935.7}{nemic,Sh4}
\clade{Sh2}{1298.7}{2916}{aurM,Sh3}
\clade{Sh1}{1283.1}{2888.6}{eaP,Sh2}
\clade{pdP}{1345.9}{3082.2}{phob,dsung}
\clade{Ds2}{1331.6}{3069.3}{norip,pdP}
\clade{Ds1}{1316}{3056.9}{sinoA,Ds2}
\clade{thP}{1346.5}{3191}{tupN,huaxC}
\clade{thxP}{1344.7}{3260.2}{tapej,huax}
\clade{Tp6}{1332.8}{3245.2}{aathal,thxP}
\clade{Tp5}{1322}{3230}{tupan,Tp6}
\clade{Tp4}{1307.1}{3216.4}{thP,Tp5}
\clade{csP}{1344.7}{3314.5}{caupe,sinoL}
\clade{gtP}{1344.7}{3368.8}{tupuG,thala}
\clade{tgtN}{1332.8}{3353.8}{tupuL,gtP}
\clade{Tp8}{1317.8}{3328.7}{csP,tgtN}
\clade{Tp7}{1304.7}{3312.6}{sinoD,Tp8}
\clade{Tp3}{1290.9}{3261.3}{Tp4,Tp7}
\clade{Tp2}{1276.6}{3215.3}{huaxS,Tp3}
\clade{Tp1}{1262.8}{3173}{eoptY,Tp2}
\clade{Ds0}{1244.3}{3089.9}{Ds1,Tp1}
\clade{E2}{1229.9}{2994.6}{Sh1,Ds0}
\clade{E1}{1209}{2940}{eoptL,E2}
\clade{Pn1}{1161.1}{2648.2}{Pn2,E1}
\clade{Pn0}{1142.6}{2494.6}{bst1878,Pn1}
% G7 with hand-drawn link down to Pn0
\coordinate (G7) at (1213.2,2208.9);
\coordinate (g7a) at (1213.2,2223.2);
\coordinate (g7b) at (1124.6,2266);
\draw[br] (G7 |- Gc1) -- (Gc1);
\draw[br] (G7 |- Gc1) -- (g7a) -- (g7b) |- (Pn0);
\clade{G6}{1197}{2173.2}{douzh,G7}
\clade{G5}{1183.3}{2132.9}{geP,G6}
\clade{G4}{1170.1}{2116}{altm,G5}
\clade{G3}{1155.1}{2104.3}{bstas,G4}
\clade{G2}{1142.6}{2083.9}{bmam,G3}
\clade{G1}{1128.2}{2053.6}{bbP,G2}
\clade{O0}{1108.5}{1638.6}{O1,G1}
% W10 with hand-drawn link down to O0
\coordinate (W10) at (1213.2,893.6);
\coordinate (w10a) at (1213.2,917.9);
\coordinate (w10b) at (1084.6,1067.9);
\coordinate (w10c) at (1084.6,1660.7);
\draw[br] (W10 |- Pd1) -- (Pd1);
\draw[br] (W10 |- Pd1) -- (w10a) -- (w10b) -- (w10c);
\draw[br] (w10b |- O0) -- (O0);
\clade{W9}{1194}{830.4}{ppP,W10}
\clade{W8}{1176.1}{734.6}{skN,W9}
\clade{W7}{1153.3}{690}{dlP,W8}
\clade{W6}{1134.2}{566}{darN,W7}
\clade{W5}{1112.7}{481.4}{kuP,W6}
\clade{W4}{1094.7}{451}{wukong,W5}
\clade{W3}{1080.4}{399.3}{cP,W4}
\clade{W2}{1067.8}{376.8}{pteror,W3}
\clade{W1}{1051.7}{339.3}{jsP,W2}

% ================= LEFT COLUMN TREE
\clade{c1}{304.8}{287.5}{macB,dino}
\clade{c2}{283.8}{277.9}{macA,c1}
\clade{c3}{304.8}{365.4}{tanyM,tanyT}
\clade{c4}{283.8}{351.8}{fuyu,c3}
\clade{c5}{265.3}{332.1}{amoto,c4}
\clade{c6}{245.5}{292.9}{c2,c5}
\clade{lang}{304.8}{417.8}{lango,tanytr}
\clade{raet}{526.8}{586.5}{raetico,austS}
\clade{austd}{526.8}{628.3}{austdraco,seazza}
\clade{mcP}{523}{692.7}{mcsnbA,preon}
\clade{D8b}{528}{835}{ivpp,mesa}
\clade{D8}{507}{823.9}{dimwein,D8b}
\clade{luP}{528}{888.6}{luop,smnsA}
\clade{caP}{528}{942.1}{casco,nkorea}
\clade{D13}{508.3}{928.6}{vesper,caP}
\clade{anP}{528}{977.9}{anuro,sinomac}
\clade{D12}{492.3}{964.3}{D13,anP}
\clade{cgP}{528}{1013.6}{cag,pinA}
\clade{djP}{528}{1067.1}{daohu,jehol}
\clade{D16}{508.3}{1055.4}{batra,djP}
\clade{D15}{492.3}{1032.9}{cgP,D16}
\clade{D11}{472}{1010}{D12,D15}
\clade{D10}{452.8}{973.2}{luP,D11}
\clade{D9}{440}{897.5}{dendro,D10}
\clade{D7}{425.4}{870.7}{D8,D9}
\clade{D6}{411.4}{828.6}{mcsnbB,D7}
\clade{D5}{400.5}{806.4}{carnia,D6}
\clade{D4}{387.8}{785}{petein,D5}
\clade{D3}{375}{766}{dimmac,D4}
\clade{D2}{363.5}{750}{caeles,D3}
\clade{D1}{350.8}{728.6}{mcP,D2}
% Rhamphorhynchidae
\clade{czP}{512}{1253.6}{campyZ1,campyZ2}
\clade{stP}{512}{1335.2}{rSt,rBa}
\clade{mqP}{512}{1394.1}{rMBH,qing}
\clade{beN}{496}{1373}{bellu,mqP}
\clade{R8c}{513.4}{1474.1}{rTMa,rBb}
\clade{R8b}{493}{1463.6}{rBc,R8c}
\clade{R8}{475}{1442.9}{rBM1,R8b}
\clade{aiP}{513.4}{1592.8}{rAMNH,rImhof}
\clade{R13a}{493}{1575}{rHMNS,aiP}
\clade{nbP}{513.4}{1650.4}{rNHMW,rBM2}
\clade{R13b}{493}{1632.9}{rGPIT,nbP}
\clade{R13}{468.8}{1595.7}{R13a,R13b}
\clade{wbP}{513.4}{1686.6}{rWDC,rBRI}
\clade{mwP}{513.4}{1800}{rMTM,rWU}
\clade{R16d}{495.5}{1785}{rHMNS2,mwP}
\clade{R16c}{477}{1762.5}{rBSPG,R16d}
\clade{R16b}{461.1}{1750.7}{rJMEa,R16c}
\clade{R16}{443.2}{1732.9}{rTMP,R16b}
\clade{yjP}{513.4}{1856.8}{rYPM,rJMEb}
\clade{R17a}{493}{1841}{rCM,yjP}
\clade{gbP}{513.4}{1954.2}{rGPIH,rB1929}
\clade{R17d}{493}{1942.9}{rTMc,gbP}
\clade{R17c}{475.1}{1925}{rSMF,R17d}
\clade{R17b}{454.1}{1907}{rTMb,R17c}
\clade{R17}{433.7}{1870.7}{R17a,R17b}
\clade{R15}{415.8}{1824.3}{R16,R17}
\clade{R14}{398.6}{1749.3}{wbP,R15}
\clade{R12}{382.7}{1686.4}{R13,R14}
\clade{R11}{365.4}{1600}{rLauer,R12}
\clade{R10}{349.5}{1549.3}{rROM,R11}
\clade{R9}{330.4}{1529.6}{rB1938,R10}
\clade{R7}{314.4}{1471.4}{R8,R9}
\clade{R6}{295.3}{1413.2}{beN,R7}
\clade{R5}{279.3}{1365}{stP,R6}
\clade{R4}{263.4}{1334.6}{campyL,R5}
\clade{R3}{248.7}{1320.4}{neso,R4}
\clade{R2}{234.7}{1287.5}{czP,R3}
\clade{R1}{218.8}{1259}{campyHLZ,R2}
% Sordes clade and relatives
\clade{osP}{516.6}{2037}{orient,sordesA}
\clade{fP}{528}{2222.3}{fengA,fengB}
\clade{dsP}{528}{2262.7}{doryMBR,seric}
\clade{S4b}{512.1}{2241.8}{fP,dsP}
\clade{S4a}{496.2}{2222.5}{doryV,S4b}
\clade{gaP}{528}{2540.7}{gnatho,amnh5147}
\clade{C1a}{515.3}{2520.7}{liao,gaP}
\clade{C2c}{528}{2616}{tanis,fossil}
\clade{C2b}{515.3}{2600}{cLauer,C2c}
\clade{C2a}{503.8}{2584}{cten45,C2b}
\clade{C4a}{526.8}{2686.8}{gege,glado}
\clade{bdP}{526.1}{2738.7}{balae,d2514}
\clade{ppB}{526.1}{2779.1}{ptdau,ptdauE}
\clade{C6}{510.2}{2760.7}{bdP,ppB}
\clade{C5}{497.4}{2745.7}{cten65,C6}
\clade{C4}{487.9}{2702.9}{C4a,C5}
\clade{C3}{479.6}{2667.9}{csmns,C4}
\clade{C2}{466.8}{2647}{C2a,C3}
\clade{C1}{454.7}{2544.6}{C1a,C2}
\clade{S6g}{443.2}{2489.3}{jpm,C1}
\clade{S6f}{430.5}{2460.7}{mbr3530,S6g}
\clade{S6e}{417.7}{2431.4}{stE1,S6f}
\clade{S6d}{406.3}{2410.7}{angust,S6e}
\clade{S6c}{391.6}{2382.9}{doryUp,S6d}
\clade{S6b}{379.5}{2366}{paraps,S6c}
\clade{S6}{366.7}{2342.9}{doryS558,S6b}
\clade{fhP}{521.7}{3064.2}{forfex,huanhe}
\clade{P3a}{510.2}{3046.4}{ardea,fhP}
\clade{jcP}{521.7}{3194.3}{jida,chaoL}
\clade{zqP}{521.7}{3248.7}{zheji,quetz}
\clade{Az2}{499.4}{3235}{chaoH,zqP}
\clade{Az1}{481.5}{3217.9}{jcP,Az2}
\clade{P6}{461.1}{3191.1}{sos2428,Az1}
\clade{P5}{445.2}{3127.9}{bst1911,P6}
\clade{P4}{432.4}{3107.1}{cm11426,P5}
\clade{P3}{415.8}{3074.3}{P3a,P4}
\clade{P2}{403}{3045.7}{beipiao,P3}
\clade{P1}{390.3}{3017.1}{rhampho,P2}
\clade{S11c}{379.5}{2998.2}{tm10341,P1}
\clade{S11b}{364.8}{2918.6}{doryS501,S11c}
\clade{S11}{352}{2896.4}{doryS518,S11b}
\clade{smP}{521.7}{3386.3}{scaS,scaM}
\clade{Sc1}{498.7}{3371.4}{scaC,smP}
% X: Scaphognathidae + the right column, linked by the long connector
\coordinate (X) at (481.5,3407);
\coordinate (xb) at (481.5,3501);
\coordinate (xc) at (950,3501);
\draw[br] (X |- Sc1) -- (Sc1);
\draw[br] (X |- Sc1) -- (xb) -- (xc) |- (W1);
\clade{S10}{325.3}{3050}{dearc,S11,X}
\draw[br] (285,2945.7) -- (303,2945.7);
\clade{S5}{301.7}{2635.7}{S6,S10}
\clade{S4}{280.6}{2437.5}{S4a,S5}
\clade{S3}{255.1}{2296.4}{doryH,S4}
\clade{S2}{227.7}{2209}{sordesB,S3}
\clade{S1}{202.8}{2078.6}{osP,S2}
\clade{N15}{139}{1537.5}{R1,S1}
\clade{N14}{118}{1232}{arctic,N15}
\clade{N13}{102}{1148}{eudim,N14}
% N12 with hand-drawn link down to N13
\coordinate (N12) at (218.8,867.9);
\coordinate (n12a) at (218.8,921.4);
\coordinate (n12b) at (83.5,1003.6);
\draw[br] (N12 |- D1) -- (D1);
\draw[br] (N12 |- D1) -- (n12a) -- (n12b) |- (N13);
\clade{N11}{202.8}{723.2}{austSC,N12}
\clade{N10}{185}{701}{austd,N11}
\clade{N9}{165.8}{655.4}{raet,N10}
\clade{N8}{149.9}{608.9}{bergamo,N9}
\clade{N7}{135.2}{580.4}{longi,N8}
\clade{N6}{121.2}{560.7}{kyrg,N7}
\clade{N5}{106.5}{501.8}{sharo,N6}
\clade{N4}{92.5}{482.1}{coses,N5}
\clade{N3}{77.8}{446.4}{lang,N4}
\clade{N2}{62.5}{345.7}{c6,N3}
\clade{N1}{46.5}{330}{macbes,N2}
\clade{R0}{32}{270}{huehue,N1}

% open triangles on the long connector
\draw[tri] (950,1582) -- (963,1646) -- (937,1646) -- cycle;
\draw[tri] (950,2914) -- (963,2975) -- (937,2975) -- cycle;
\draw[tri] (838,3501) -- (778,3488) -- (778,3514) -- cycle;
\end{tikzpicture}
\end{document}
